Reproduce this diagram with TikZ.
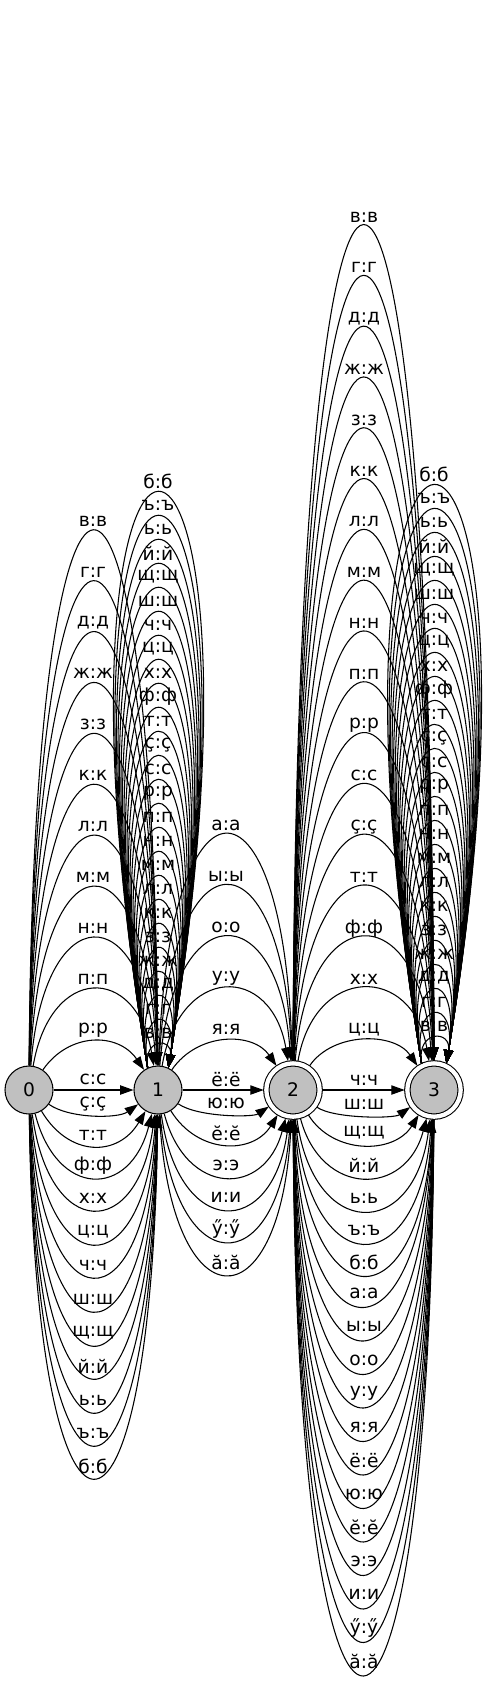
\documentclass[tikz,border=0pt]{standalone}
\usepackage{fontspec}
\setmainfont{DejaVu Sans}
\usepackage{tikz}
\usetikzlibrary{arrows.meta}
\definecolor{stategray}{RGB}{192,192,192}
\tikzset{
  state/.style={circle, draw, fill=stategray, line width=0.8pt, minimum size=36pt, inner sep=0pt},
  finalstate/.style={circle, draw, fill=stategray, line width=0.8pt, minimum size=40pt, inner sep=0pt, double, double distance=3.2pt, outer sep=2pt},
  trans/.style={line width=0.8pt, -{Triangle[length=10pt,width=7pt]}},
  tlabel/.style={inner sep=0pt}
}

\begin{document}
\begin{tikzpicture}[x=0.75pt, y=-0.75pt, every node/.style={font=\fontsize{14}{17}\selectfont}]
\useasboundingbox (0,0) rectangle (487,1685);
\node [state] (q0) at (29,1090) {0};
\node [state] (q1) at (158,1090) {1};
\node [finalstate] (q2) at (293,1090) {2};
\node [finalstate] (q3) at (434,1090) {3};
% 0 -> 1
\draw [trans] (q0) -- (q1);
\node [tlabel] (a0) at (93,1079) {с:с};
\foreach \ch [count=\i from 0] in {в,г,д,ж,з,к,л,м,н,п,р}{
  \pgfmathsetmacro\ly{521+50.9*\i}
  \pgfmathsetmacro\cy{(\ly-256)/0.75}
  \pgfmathsetmacro\e{min(40,2400/(1090-\ly))}
  \draw [trans] (q0) .. controls (29+\e,\cy) and (158-\e,\cy) .. (q1);
  \node [tlabel] (au\i) at (93,\ly) {\ch:\ch};
}
\foreach \ch/\ly [count=\i from 0] in {ç/1104,т/1135,ф/1166,х/1198,ц/1232,ч/1265,ш/1299,щ/1333,й/1366,ь/1400,ъ/1433,б/1466}{
  \pgfmathsetmacro\cy{(\ly+12-279+2*(\i==0))/0.75}
  \pgfmathsetmacro\e{min(40,2400/(\ly-1080))}
  \draw [trans] (q0) .. controls (29+\e,\cy) and (158-\e,\cy) .. (q1);
  \node [tlabel] (ad\i) at (93,\ly) {\ch:\ch};
}
% 1 -> 1
\foreach \ch [count=\i from 0] in {б,ъ,ь,й,щ,ш,ч,ц,х,ф,т,ç,с,р,п,н,м,л,к,з,ж,д,г,в}{
  \pgfmathsetmacro\ly{481+24*\i}
  \pgfmathsetmacro\h{1068.3-\ly-12}
  \pgfmathsetmacro\k{1068.3-\h/0.75}
  \pgfmathsetmacro\w{0.22*\h}
  \draw [trans] (q1.115) .. controls (147.9-\w,\k) and (168.1+\w,\k) .. (q1.65);
  \node [tlabel] (l\i) at (158,\ly) {\ch:\ch};
}
% 1 -> 2
\draw [trans] (q1) -- (q2);
\node [tlabel] (b0) at (226,1080) {ё:ё};
\foreach \ch [count=\i from 0] in {а,ы,о,у,я}{
  \pgfmathsetmacro\ly{825+51.2*\i}
  \pgfmathsetmacro\cy{(\ly-256)/0.75}
  \pgfmathsetmacro\e{min(40,2400/(1090-\ly))}
  \draw [trans] (q1) .. controls (158+\e,\cy) and (293-\e,\cy) .. (q2);
  \node [tlabel] (bu\i) at (226,\ly) {\ch:\ch};
}
\foreach \ch/\ly [count=\i from 0] in {ю/1103,ӗ/1133,э/1165,и/1197,ӳ/1229,ӑ/1262}{
  \pgfmathsetmacro\cy{(\ly+12-279+2*(\i==0))/0.75}
  \pgfmathsetmacro\e{min(40,2400/(\ly-1080))}
  \draw [trans] (q1) .. controls (158+\e,\cy) and (293-\e,\cy) .. (q2);
  \node [tlabel] (bd\i) at (226,\ly) {\ch:\ch};
}
% 2 -> 3
\draw [trans] (q2) -- (q3);
\node [tlabel] (c0) at (364,1080) {ч:ч};
\foreach \ch [count=\i from 0] in {в,г,д,ж,з,к,л,м,н,п,р,с,ç,т,ф,х,ц}{
  \pgfmathsetmacro\ly{217+50.8*\i}
  \pgfmathsetmacro\cy{(\ly-256)/0.75}
  \pgfmathsetmacro\e{min(40,2400/(1090-\ly))}
  \draw [trans] (q2) .. controls (293+\e,\cy) and (434-\e,\cy) .. (q3);
  \node [tlabel] (cu\i) at (364,\ly) {\ch:\ch};
}
\foreach \ch/\ly [count=\i from 0] in {ш/1104,щ/1133,й/1165,ь/1198,ъ/1230,б/1262}{
  \pgfmathsetmacro\cy{(\ly+12-279+2*(\i==0))/0.75}
  \pgfmathsetmacro\e{min(40,2400/(\ly-1080))}
  \draw [trans] (q2) .. controls (293+\e,\cy) and (434-\e,\cy) .. (q3);
  \node [tlabel] (cd\i) at (364,\ly) {\ch:\ch};
}
% 3 -> 3
\foreach \ch [count=\i from 0] in {б,ъ,ь,й,щ,ш,ч,ц,х,ф,т,ç,с,р,п,н,м,л,к,з,ж,д,г,в}{
  \pgfmathsetmacro\ly{474+24*\i}
  \pgfmathsetmacro\h{1063.4-\ly-12}
  \pgfmathsetmacro\k{1063.4-\h/0.75}
  \pgfmathsetmacro\w{0.22*\h}
  \draw [trans] (q3.115) .. controls (421.6-\w,\k) and (446.4+\w,\k) .. (q3.65);
  \node [tlabel] (m\i) at (434,\ly) {\ch:\ch};
}
% 3 -> 2
\foreach \ch [count=\i from 0] in {а,ы,о,у,я,ё,ю,ӗ,э,и,ӳ,ӑ}{
  \pgfmathsetmacro\ly{1293+33.5*\i}
  \pgfmathsetmacro\cy{(\ly-267)/0.75}
  \pgfmathsetmacro\e{min(40,2400/(\ly-1080))}
  \draw [trans] (q3) .. controls (434-\e,\cy) and (293+\e,\cy) .. (q2);
  \node [tlabel] (dd\i) at (364,\ly) {\ch:\ch};
}
\end{tikzpicture}
\end{document}
